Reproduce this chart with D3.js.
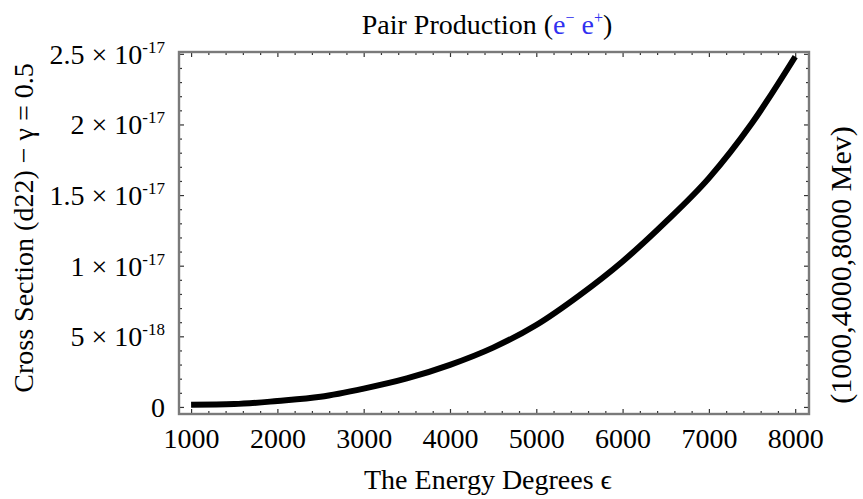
<!DOCTYPE html>
<html>
<head>
<meta charset="utf-8">
<script src="https://cdn.jsdelivr.net/npm/d3@7"></script>
<style>
  body { margin: 0; background: #fff; }
  text { font-family: "Liberation Serif", "Times New Roman", serif; fill: #000; }
</style>
</head>
<body>
<script>
// energy (MeV) and cross section
var energies = [1000, 1500, 2000, 2500, 3000, 3500, 4000, 4500, 5000, 5500, 6000, 6500, 7000, 7500, 8000];
var crossSection = [0.15e-18, 0.2e-18, 0.42e-18, 0.72e-18, 1.3e-18, 2.02e-18, 2.98e-18, 4.2e-18, 5.8e-18,
  7.9e-18, 10.3e-18, 13.1e-18, 16.2e-18, 20.1e-18, 24.8e-18];

var xTickValues = [1000, 2000, 3000, 4000, 5000, 6000, 7000, 8000];
var yTickValues = [0, 5e-18, 1e-17, 1.5e-17, 2e-17, 2.5e-17];
var yTickLabels = [["0", ""], ["5 × 10", "-18"], ["1 × 10", "-17"], ["1.5 × 10", "-17"], ["2 × 10", "-17"], ["2.5 × 10", "-17"]];

var titleText = "Pair Production";
var xTitle = "The Energy Degrees ϵ";
var yTitle = "Cross Section (d22) − γ = 0.5";
var rightTitle = "(1000,4000,8000 Mev)";

var width = 863;
var height = 499;
var frame = { left: 179, right: 809, top: 52, bottom: 414 };

var svg = d3.select("body").append("svg")
  .attr("width", width)
  .attr("height", height);

var x = d3.scaleLinear().domain([860, 8160]).range([frame.left, frame.right]);
var y = d3.scaleLinear().domain([-0.5e-18, 25.13e-18]).range([frame.bottom, frame.top]);

// minor tick positions
var xMinor = d3.range(1000, 8001, 200).filter(function (v) { return v % 1000 !== 0; });
var yMinor = d3.range(0, 25.5, 1).filter(function (v) { return v % 5 !== 0; }).map(function (v) { return v * 1e-18; });

function tickStyle(g) {
  g.select(".domain").remove();
  g.selectAll(".tick line").attr("stroke", "#333").attr("stroke-width", 1.2);
}

// minor ticks (all four sides)
svg.append("g").attr("transform", "translate(0," + frame.bottom + ")")
  .call(d3.axisBottom(x).tickValues(xMinor).tickSizeInner(-3).tickFormat(""))
  .call(tickStyle);
svg.append("g").attr("transform", "translate(0," + frame.top + ")")
  .call(d3.axisTop(x).tickValues(xMinor).tickSizeInner(-3).tickFormat(""))
  .call(tickStyle);
svg.append("g").attr("transform", "translate(" + frame.left + ",0)")
  .call(d3.axisLeft(y).tickValues(yMinor).tickSizeInner(-3).tickFormat(""))
  .call(tickStyle);
svg.append("g").attr("transform", "translate(" + frame.right + ",0)")
  .call(d3.axisRight(y).tickValues(yMinor).tickSizeInner(-3).tickFormat(""))
  .call(tickStyle);

// major ticks with labels
var xAxis = svg.append("g").attr("transform", "translate(0," + frame.bottom + ")")
  .call(d3.axisBottom(x).tickValues(xTickValues).tickSizeInner(-5).tickPadding(14).tickFormat(d3.format("d")))
  .call(tickStyle);
xAxis.selectAll(".tick text").style("font-size", "28px").attr("fill", "#000");

svg.append("g").attr("transform", "translate(0," + frame.top + ")")
  .call(d3.axisTop(x).tickValues(xTickValues).tickSizeInner(-5).tickFormat(""))
  .call(tickStyle);

var yAxis = svg.append("g").attr("transform", "translate(" + frame.left + ",0)")
  .call(d3.axisLeft(y).tickValues(yTickValues).tickSizeInner(-5).tickPadding(14).tickFormat(""))
  .call(tickStyle);
yAxis.selectAll(".tick text").each(function (d, i) {
  var t = d3.select(this)
    .attr("fill", "#000")
    .attr("dy", "0.34em")
    .style("font-size", "28px");
  t.append("tspan").text(yTickLabels[i][0]);
  if (yTickLabels[i][1]) {
    t.append("tspan").attr("dy", "-11").style("font-size", "17px").text(yTickLabels[i][1]);
  }
});

svg.append("g").attr("transform", "translate(" + frame.right + ",0)")
  .call(d3.axisRight(y).tickValues(yTickValues).tickSizeInner(-5).tickFormat(""))
  .call(tickStyle);

// frame
svg.append("rect")
  .attr("x", frame.left)
  .attr("y", frame.top)
  .attr("width", frame.right - frame.left)
  .attr("height", frame.bottom - frame.top)
  .attr("fill", "none")
  .attr("stroke", "#7a7a7a")
  .attr("stroke-width", 2.4);

// curve
var line = d3.line()
  .x(function (d, i) { return x(energies[i]); })
  .y(function (d) { return y(d); })
  .curve(d3.curveMonotoneX);

svg.append("path")
  .datum(crossSection)
  .attr("d", line)
  .attr("fill", "none")
  .attr("stroke", "#000")
  .attr("stroke-width", 6)
  .attr("stroke-linecap", "butt");

// title
var blue = "#3030f0";
var title = svg.append("text")
  .attr("x", 487)
  .attr("y", 34)
  .attr("text-anchor", "middle")
  .style("font-size", "28px");
title.append("tspan").text(titleText + " (");
title.append("tspan").style("fill", blue).text("e");
title.append("tspan").attr("dy", "-11").style("font-size", "16px").style("fill", blue).text("−");
title.append("tspan").attr("dy", "11").text(" ");
title.append("tspan").style("fill", blue).text("e");
title.append("tspan").attr("dy", "-11").style("font-size", "16px").style("fill", blue).text("+");
title.append("tspan").attr("dy", "11").text(")");

// axis titles
svg.append("text")
  .attr("x", 488)
  .attr("y", 489)
  .attr("text-anchor", "middle")
  .style("font-size", "28px")
  .text(xTitle);

svg.append("text")
  .attr("transform", "translate(33,228) rotate(-90)")
  .attr("text-anchor", "middle")
  .style("font-size", "28px")
  .text(yTitle);

svg.append("text")
  .attr("transform", "translate(851,265) rotate(-90)")
  .attr("text-anchor", "middle")
  .style("font-size", "30px")
  .text(rightTitle);
</script>
</body>
</html>
